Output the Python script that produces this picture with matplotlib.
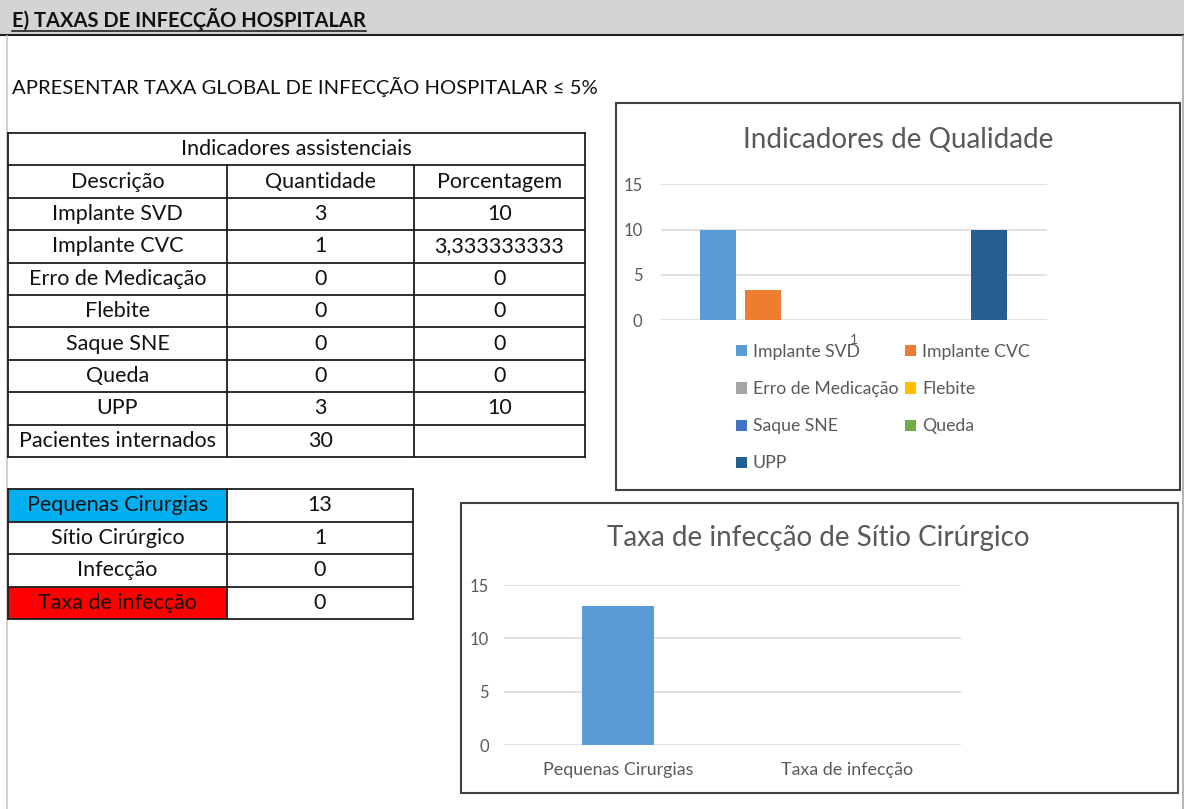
import matplotlib
matplotlib.use("Agg")
import matplotlib.pyplot as plt
from matplotlib.patches import Rectangle

plt.rcParams['font.family'] = ['Lato', 'DejaVu Sans']

# ---- data -------------------------------------------------------------
indicadores = ["Implante SVD", "Implante CVC", "Erro de Medicação", "Flebite",
               "Saque SNE", "Queda", "UPP"]
quantidade = [3, 1, 0, 0, 0, 0, 3]
porcentagem = [10, 3.333333333, 0, 0, 0, 0, 10]
pacientes_internados = 30

cirurgia_rotulos = ["Pequenas Cirurgias", "Sítio Cirúrgico", "Infecção", "Taxa de infecção"]
cirurgia_valores = [13, 1, 0, 0]

grafico2_categorias = ["Pequenas Cirurgias", "Taxa de infecção"]
grafico2_valores = [13, 0]

serie_cores = ["#5B9BD5", "#ED7D31", "#A5A5A5", "#FFC000", "#4472C4", "#70AD47", "#255E91"]
eixo_y = [0, 5, 10, 15]

# ---- canvas -----------------------------------------------------------
W, H, DPI = 1184, 809, 100
fig = plt.figure(figsize=(W / DPI, H / DPI), dpi=DPI)
fig.patch.set_facecolor("white")
bg = fig.add_axes([0, 0, 1, 1], zorder=0)
bg.set_xlim(0, W)
bg.set_ylim(H, 0)
bg.axis("off")


def px_axes(x0, y0, x1, y1, z=2):
    """Axes placed by pixel box (top-left origin)."""
    return fig.add_axes([x0 / W, 1 - y1 / H, (x1 - x0) / W, (y1 - y0) / H], zorder=z)


def fmt(v):
    if float(v).is_integer():
        return str(int(v))
    return f"{v:.9f}".replace(".", ",")


LINE = "#1e1e1e"
TXT = "#111111"
GRAY_TXT = "#595959"
TABLE_FS = 15.5

# ---- sheet header -----------------------------------------------------
bg.add_patch(Rectangle((0, 0), W, 35, fc="#d4d4d4", ec="none"))
bg.plot([0, W], [35, 35], color=LINE, lw=1.5)
bg.plot([7, 7], [36, H], color="#c8c8c8", lw=1.2)
bg.plot([1183, 1183], [36, H], color="#a8a8a8", lw=1.2)

hdr = bg.text(12, 19, "E) TAXAS DE INFECÇÃO HOSPITALAR", fontsize=14.5, fontweight="bold",
              color=TXT, va="center", ha="left")
bg.text(12, 87, "APRESENTAR TAXA GLOBAL DE INFECÇÃO HOSPITALAR ≤ 5%", fontsize=14.6,
        color=TXT, va="center", ha="left")

# ---- table 1: Indicadores assistenciais ------------------------------
cols = [8, 227, 414, 585]
row_h = 32.4
top = 133
rows = [top + row_h * i for i in range(11)]
for y in rows:
    bg.plot([cols[0], cols[-1]], [y, y], color=LINE, lw=1.3)
for x in (cols[0], cols[-1]):
    bg.plot([x, x], [rows[0], rows[-1]], color=LINE, lw=1.3)
for x in cols[1:-1]:
    bg.plot([x, x], [rows[1], rows[-1]], color=LINE, lw=1.3)

cx = [(cols[i] + cols[i + 1]) / 2 for i in range(3)]


def cell(x, r, s, rows_=rows, **kw):
    bg.text(x, (rows_[r] + rows_[r + 1]) / 2, s, fontsize=TABLE_FS, color=TXT,
            ha="center", va="center", **kw)


cell((cols[0] + cols[-1]) / 2, 0, "Indicadores assistenciais")
for x, s in zip(cx, ["Descrição", "Quantidade", "Porcentagem"]):
    cell(x, 1, s)
for i, name in enumerate(indicadores):
    cell(cx[0], i + 2, name)
    cell(cx[1], i + 2, str(quantidade[i]))
    cell(cx[2], i + 2, fmt(porcentagem[i]))
cell(cx[0], 9, "Pacientes internados")
cell(cx[1], 9, str(pacientes_internados))

# ---- table 2: cirurgias -----------------------------------------------
cols2 = [8, 227, 413]
rows2 = [489 + 32.5 * i for i in range(5)]
fills = {0: "#00B0F0", 3: "#FF0000"}
for r, c in fills.items():
    bg.add_patch(Rectangle((cols2[0], rows2[r]), cols2[1] - cols2[0], rows2[r + 1] - rows2[r],
                           fc=c, ec="none"))
for y in rows2:
    bg.plot([cols2[0], cols2[-1]], [y, y], color=LINE, lw=1.3)
for x in cols2:
    bg.plot([x, x], [rows2[0], rows2[-1]], color=LINE, lw=1.3)
for i, (lab, val) in enumerate(zip(cirurgia_rotulos, cirurgia_valores)):
    cell((cols2[0] + cols2[1]) / 2, i, lab, rows_=rows2)
    cell((cols2[1] + cols2[2]) / 2, i, str(val), rows_=rows2)

# ---- chart frames -----------------------------------------------------
bg.add_patch(Rectangle((616, 103), 1180 - 616, 490 - 103, fc="white", ec="#404040", lw=1.5))
bg.add_patch(Rectangle((461, 503), 1178 - 461, 793 - 503, fc="white", ec="#404040", lw=1.5))


def style_axis(ax, ypad):
    ax.set_ylim(0, 15)
    ax.set_yticks(eixo_y)
    ax.yaxis.grid(True, color="#d9d9d9", lw=1.1)
    ax.set_axisbelow(True)
    for sp in ax.spines.values():
        sp.set_visible(False)
    ax.tick_params(length=0, colors=GRAY_TXT, labelsize=12)
    ax.tick_params(axis="y", pad=ypad)
    ax.set_facecolor("none")


# ---- chart 1: Indicadores de Qualidade --------------------------------
ax1 = px_axes(660.5, 184.3, 1046.6, 320)
slot, bw = 0.1172, 0.0925
handles = []
for i, (name, val) in enumerate(zip(indicadores, porcentagem)):
    b = ax1.bar((i - 3) * slot, val, width=bw, color=serie_cores[i], label=name)
    handles.append(b)
ax1.set_xlim(-0.5, 0.5)
ax1.set_xticks([0])
ax1.set_xticklabels(["1"])
style_axis(ax1, 13)
ax1.tick_params(axis="x", pad=10, labelsize=10)
bg.text(898, 140, "Indicadores de Qualidade", fontsize=20, color=GRAY_TXT,
        ha="center", va="center")

order = [0, 2, 4, 6, 1, 3, 5]
leg = fig.legend([handles[k] for k in order], [indicadores[k] for k in order],
                 ncol=2, loc="upper left", bbox_to_anchor=(736 / W, 1 - 344 / H),
                 frameon=False, fontsize=12.7, handlelength=0.6, handleheight=0.6,
                 handletextpad=0.35, columnspacing=0.4, labelspacing=1.2,
                 borderpad=0, borderaxespad=0)
for t in leg.get_texts():
    t.set_color(GRAY_TXT)

# ---- chart 2: Taxa de infecção de Sítio Cirúrgico ---------------------
ax2 = px_axes(504, 585, 961, 745)
ax2.bar(range(len(grafico2_categorias)), grafico2_valores, width=0.313, color=serie_cores[0])
ax2.set_xlim(-0.5, 1.5)
ax2.set_xticks(range(len(grafico2_categorias)))
ax2.set_xticklabels(grafico2_categorias)
style_axis(ax2, 11)
ax2.tick_params(axis="x", pad=12, labelsize=12.9)
bg.text(818, 538, "Taxa de infecção de Sítio Cirúrgico", fontsize=20, color=GRAY_TXT,
        ha="center", va="center")

# ---- underline for the sheet header -----------------------------------
fig.canvas.draw()
bb = hdr.get_window_extent().transformed(bg.transData.inverted())
x0, x1 = sorted([bb.x0, bb.x1])
bg.plot([x0, x1], [31, 31], color=TXT, lw=1.1)

fig.savefig("out.png", dpi=DPI)
